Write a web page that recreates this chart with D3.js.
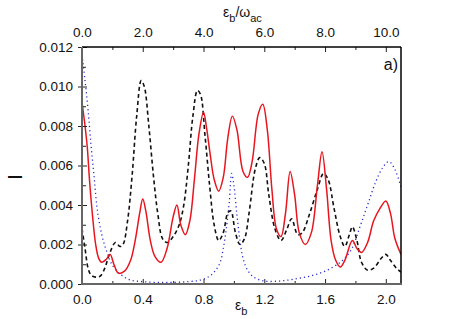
<!DOCTYPE html>
<html lang="en">
<head>
	<meta charset="utf-8" />
	<title>I vs eps_b</title>
	<script src="https://cdnjs.cloudflare.com/ajax/libs/d3/7.8.5/d3.min.js"></script>
	<style>
		body { margin: 0; background: #fff; }
		svg { font-family: "Liberation Sans", Arial, sans-serif; }
	</style>
</head>
<body>
	<svg width="457" height="319"></svg>
	<script>
		// values: [eps_b, I * 1000]
		let redData = [
			[0.00, 9.2], [0.02, 8.0], [0.035, 6.9], [0.05, 5.2], [0.07, 3.4], [0.09, 2.0],
			[0.11, 1.3], [0.13, 1.1], [0.16, 1.25], [0.185, 1.5], [0.21, 1.0], [0.24, 0.55],
			[0.28, 0.65], [0.32, 1.2], [0.35, 2.2], [0.38, 3.6], [0.40, 4.3], [0.42, 3.7],
			[0.45, 2.2], [0.48, 1.4], [0.52, 1.1], [0.56, 1.8], [0.60, 3.4], [0.625, 4.0],
			[0.65, 3.0], [0.68, 2.5], [0.71, 3.2], [0.74, 5.3], [0.77, 7.6], [0.80, 8.7],
			[0.82, 7.9], [0.845, 6.5], [0.87, 5.3], [0.90, 4.7], [0.93, 5.4], [0.96, 7.4],
			[0.99, 8.5], [1.02, 7.8], [1.06, 5.7], [1.09, 5.4], [1.12, 6.2], [1.16, 8.6],
			[1.19, 9.1], [1.22, 7.8], [1.25, 4.8], [1.28, 2.8], [1.31, 2.4], [1.34, 3.6],
			[1.37, 5.7], [1.40, 4.5], [1.43, 2.6], [1.47, 2.0], [1.51, 2.6], [1.55, 5.0],
			[1.58, 6.7], [1.61, 4.8], [1.64, 2.2], [1.67, 1.2], [1.70, 0.86], [1.73, 1.2],
			[1.78, 2.2], [1.81, 1.8], [1.84, 1.6], [1.88, 2.1], [1.92, 3.2], [1.96, 3.8],
			[2.00, 4.2], [2.03, 3.6], [2.06, 2.3], [2.10, 1.5]
		];
		let blackData = [
			[0.00, 2.8], [0.02, 1.8], [0.04, 0.8], [0.06, 0.45], [0.09, 0.35], [0.12, 0.4],
			[0.15, 0.8], [0.18, 1.5], [0.22, 2.1], [0.25, 1.9], [0.27, 2.0], [0.30, 3.2],
			[0.33, 5.5], [0.36, 8.5], [0.39, 10.3], [0.41, 10.0], [0.44, 8.0], [0.47, 5.5],
			[0.50, 3.5], [0.53, 2.3], [0.56, 2.1], [0.60, 2.4], [0.64, 3.0], [0.67, 4.0],
			[0.70, 6.0], [0.73, 8.5], [0.76, 9.8], [0.78, 9.6], [0.81, 7.5], [0.84, 5.0],
			[0.87, 3.0], [0.90, 2.2], [0.93, 2.6], [0.96, 3.6], [0.98, 3.7], [1.01, 2.6],
			[1.04, 2.0], [1.07, 2.3], [1.10, 3.6], [1.14, 5.8], [1.17, 6.4], [1.20, 6.1],
			[1.23, 4.5], [1.27, 2.8], [1.31, 2.2], [1.35, 2.8], [1.38, 3.3], [1.42, 2.5],
			[1.45, 2.6], [1.50, 3.6], [1.55, 4.8], [1.59, 5.6], [1.62, 5.3], [1.66, 3.8],
			[1.70, 2.4], [1.73, 1.9], [1.76, 2.5], [1.78, 2.9], [1.81, 2.2], [1.84, 1.1],
			[1.88, 0.7], [1.92, 0.8], [1.97, 1.3], [2.00, 1.5], [2.03, 1.2], [2.07, 0.8],
			[2.10, 0.6]
		];
		let blueData = [
			[0.00, 11.6], [0.02, 10.3], [0.04, 8.8], [0.06, 7.0], [0.08, 5.4], [0.10, 3.8],
			[0.13, 2.5], [0.16, 1.7], [0.20, 0.95], [0.26, 0.45], [0.32, 0.2], [0.40, 0.12],
			[0.50, 0.08], [0.60, 0.08], [0.70, 0.12], [0.78, 0.2], [0.84, 0.4], [0.88, 0.7],
			[0.91, 1.1], [0.93, 1.8], [0.95, 2.8], [0.97, 4.2], [0.985, 5.6], [1.00, 5.0],
			[1.02, 3.5], [1.04, 2.2], [1.06, 1.3], [1.09, 0.7], [1.13, 0.35], [1.20, 0.15],
			[1.30, 0.15], [1.40, 0.25], [1.50, 0.4], [1.60, 0.65], [1.70, 1.1], [1.77, 1.7],
			[1.83, 2.9], [1.88, 4.0], [1.93, 5.1], [1.98, 5.9], [2.02, 6.2], [2.06, 5.8],
			[2.10, 4.9]
		];
		let bottomTicks = [0.0, 0.4, 0.8, 1.2, 1.6, 2.0];
		let topTicks = [0, 2, 4, 6, 8, 10];
		let yTicks = [0, 0.002, 0.004, 0.006, 0.008, 0.010, 0.012];

		let svg = d3.select('svg');
		let mLeft = 82, mRight = 401, mTop = 47, mBottom = 284;

		let x = d3.scaleLinear().domain([0, 2.1]).range([mLeft, mRight]);
		let xTop = d3.scaleLinear().domain([0, 10.5]).range([mLeft, mRight]);
		let y = d3.scaleLinear().domain([0, 0.012]).range([mBottom, mTop]);

		let line = d3.line()
			.x(d => x(d[0]))
			.y(d => y(d[1] / 1000))
			.curve(d3.curveCatmullRom.alpha(0.5));

		svg.append('clipPath').attr('id', 'clip')
			.append('rect')
			.attr('x', mLeft).attr('y', mTop)
			.attr('width', mRight - mLeft).attr('height', mBottom - mTop);

		let plot = svg.append('g').attr('clip-path', 'url(#clip)');
		plot.append('path').datum(blueData)
			.attr('d', line).attr('fill', 'none')
			.attr('stroke', '#2a2ad0').attr('stroke-width', 1.3)
			.attr('stroke-dasharray', '1.2,3');
		plot.append('path').datum(blackData)
			.attr('d', line).attr('fill', 'none')
			.attr('stroke', '#111').attr('stroke-width', 1.6)
			.attr('stroke-dasharray', '4,3');
		plot.append('path').datum(redData)
			.attr('d', line).attr('fill', 'none')
			.attr('stroke', '#e8151e').attr('stroke-width', 1.5);

		// axes
		let fmt1 = d3.format('.1f');
		svg.append('g').attr('transform', `translate(0,${mBottom})`)
			.call(d3.axisBottom(x).tickValues(bottomTicks).tickSizeInner(-5).tickSizeOuter(0).tickPadding(10).tickFormat(fmt1));
		svg.append('g').attr('transform', `translate(0,${mBottom})`)
			.call(d3.axisBottom(x).tickValues(d3.range(0.2, 2.1, 0.4)).tickSizeInner(-3).tickSizeOuter(0).tickFormat(''));
		svg.append('g').attr('transform', `translate(0,${mTop})`)
			.call(d3.axisTop(xTop).tickValues(topTicks).tickSizeInner(-5).tickSizeOuter(0).tickPadding(10).tickFormat(fmt1));
		svg.append('g').attr('transform', `translate(0,${mTop})`)
			.call(d3.axisTop(xTop).tickValues(d3.range(1, 10.5, 2)).tickSizeInner(-3).tickSizeOuter(0).tickFormat(''));
		let gLeft = svg.append('g').attr('transform', `translate(${mLeft},0)`)
			.call(d3.axisLeft(y).tickValues(yTicks).tickSizeInner(5).tickSizeOuter(0).tickPadding(4).tickFormat(d3.format('.3f')));
		gLeft.selectAll('.tick line').attr('x2', 5).attr('x1', -4);
		svg.append('g').attr('transform', `translate(${mLeft},0)`)
			.call(d3.axisLeft(y).tickValues(d3.range(0.001, 0.012, 0.002)).tickSizeInner(-4).tickSizeOuter(0).tickFormat(''));

		svg.selectAll('.domain').remove();
		svg.selectAll('.tick text').attr('font-size', 13.5).attr('fill', '#111')
			.attr('font-family', '"Liberation Sans", Arial, sans-serif');
		svg.selectAll('.tick line').attr('stroke', '#222');

		// frame
		svg.append('line').attr('x1', mLeft).attr('x2', mRight).attr('y1', mTop).attr('y2', mTop)
			.attr('stroke', '#000').attr('stroke-width', 1.5);
		svg.append('line').attr('x1', mRight).attr('x2', mRight).attr('y1', mTop).attr('y2', mBottom)
			.attr('stroke', '#000').attr('stroke-width', 1.5);
		svg.append('line').attr('x1', mLeft).attr('x2', mRight + 1).attr('y1', mBottom).attr('y2', mBottom)
			.attr('stroke', '#666').attr('stroke-width', 2);
		svg.append('line').attr('x1', mLeft).attr('x2', mLeft).attr('y1', mTop).attr('y2', mBottom + 1)
			.attr('stroke', '#666').attr('stroke-width', 2);

		// labels
		let topLabel = svg.append('text').attr('x', 223).attr('y', 17)
			.attr('font-size', 14).attr('fill', '#111');
		topLabel.append('tspan').text('ε');
		topLabel.append('tspan').attr('font-size', 11).attr('dy', 5).text('b');
		topLabel.append('tspan').attr('dy', -5).text('/ω');
		topLabel.append('tspan').attr('font-size', 11).attr('dy', 5).text('ac');

		let bottomLabel = svg.append('text').attr('x', 235).attr('y', 310)
			.attr('font-size', 14).attr('fill', '#111');
		bottomLabel.append('tspan').text('ε');
		bottomLabel.append('tspan').attr('font-size', 11).attr('dy', 5).text('b');

		svg.append('text')
			.attr('transform', 'translate(22,177) rotate(-90)')
			.attr('text-anchor', 'middle')
			.attr('font-size', 20).attr('fill', '#111')
			.text('I');

		svg.append('text').attr('x', 398).attr('y', 70).attr('text-anchor', 'end')
			.attr('font-size', 16).attr('fill', '#111').text('a)');
	</script>
</body>
</html>
